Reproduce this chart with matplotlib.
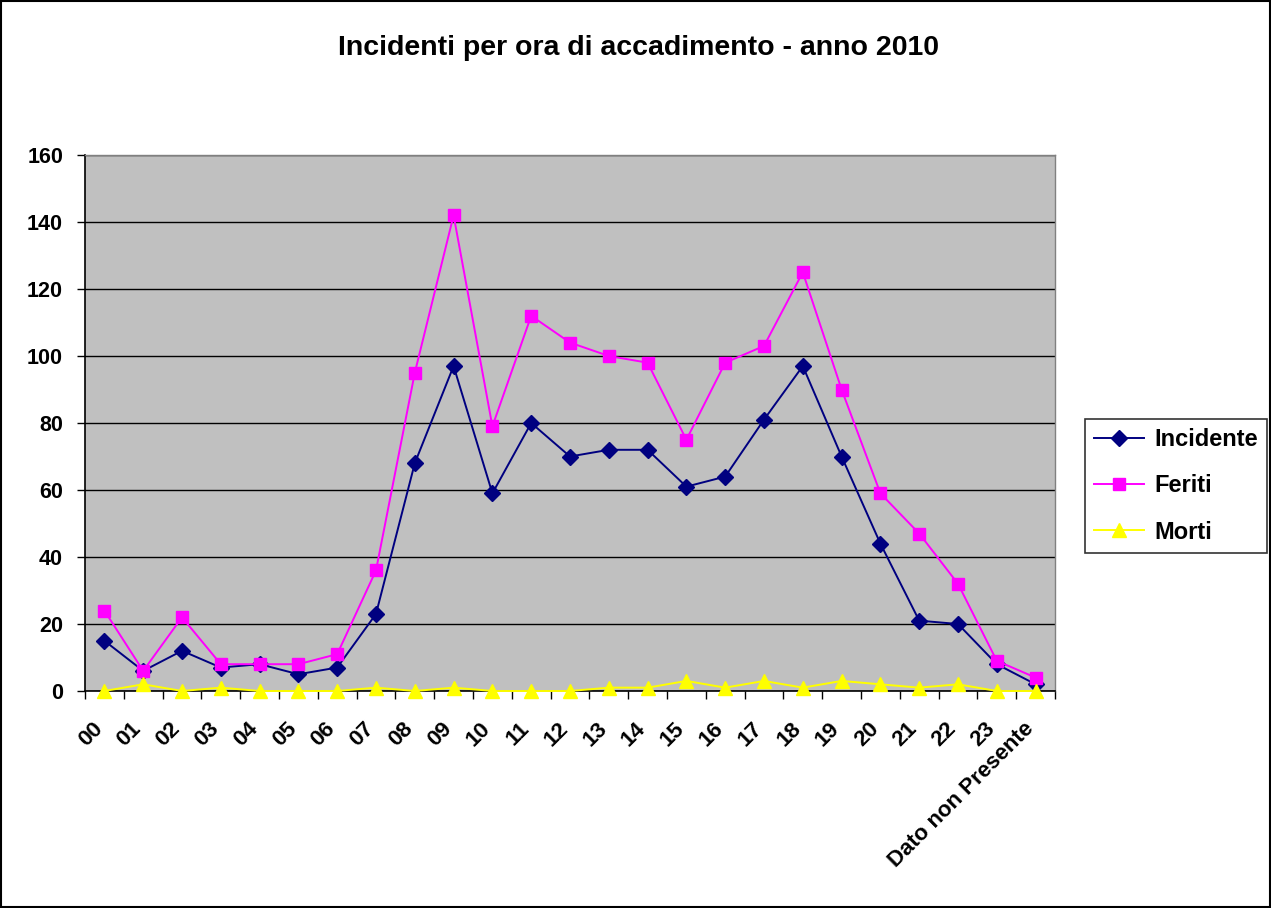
import matplotlib
matplotlib.use("Agg")
import matplotlib.pyplot as plt
import matplotlib.transforms as mtransforms
import numpy as np
from matplotlib.patches import Rectangle
from matplotlib.ticker import FixedLocator, NullFormatter

plt.rcParams['font.family'] = ['Liberation Sans', 'DejaVu Sans']
plt.rcParams['font.weight'] = 'bold'

categories = ["00", "01", "02", "03", "04", "05", "06", "07", "08", "09", "10", "11",
              "12", "13", "14", "15", "16", "17", "18", "19", "20", "21", "22", "23",
              "Dato non Presente"]
incidente = [15, 6, 12, 7, 8, 5, 7, 23, 68, 97, 59, 80, 70, 72, 72, 61, 64, 81, 97, 70, 44, 21, 20, 8, 2]
feriti = [24, 6, 22, 8, 8, 8, 11, 36, 95, 142, 79, 112, 104, 100, 98, 75, 98, 103, 125, 90, 59, 47, 32, 9, 4]
morti = [0, 2, 0, 1, 0, 0, 0, 1, 0, 1, 0, 0, 0, 1, 1, 3, 1, 3, 1, 3, 2, 1, 2, 0, 0]
y_ticks = [0, 20, 40, 60, 80, 100, 120, 140, 160]

W, H = 1271, 908
fig = plt.figure(figsize=(W / 100, H / 100), dpi=100)
fig.patch.set_facecolor('white')
fig.patches.append(Rectangle((0.0008, 0.001), 0.9984, 0.998, transform=fig.transFigure,
                             fill=False, edgecolor='black', linewidth=1.5))

left, right, top, bottom = 85, 1055, 155, 691
ax = fig.add_axes([left / W, 1 - bottom / H, (right - left) / W, (bottom - top) / H])
ax.set_facecolor('#C0C0C0')

x = np.arange(len(categories))
ax.plot(x, incidente, color='#000080', marker='D', markersize=7.8, linewidth=1.4,
        label='Incidente', zorder=3)
ax.plot(x, feriti, color='#FF00FF', marker='s', markersize=8.4, linewidth=1.4,
        label='Feriti', zorder=3)
ax.plot(x, morti, color='#FFFF00', marker='^', markersize=9.8, linewidth=1.4,
        label='Morti', zorder=3, clip_on=False)

ax.set_xlim(-0.5, len(categories) - 0.5)
ax.set_ylim(0, 160)
ax.set_yticks(y_ticks)
ax.set_yticklabels([str(v) for v in y_ticks], fontsize=15.5, fontweight='bold')
ax.yaxis.grid(True, color='black', linewidth=1.0)
ax.set_axisbelow(True)

ax.set_xticks(x)
ax.set_xticklabels(categories, rotation=45, ha='right', va='center', rotation_mode='anchor',
                   fontsize=16, fontweight='bold')
ax.tick_params(axis='x', which='major', length=0, pad=25)
shift = mtransforms.ScaledTranslation(-5 / 100, 0, fig.dpi_scale_trans)
for lbl in ax.get_xticklabels():
    lbl.set_transform(lbl.get_transform() + shift)
ax.xaxis.set_minor_locator(FixedLocator(np.arange(-0.5, len(categories), 1.0)))
ax.xaxis.set_minor_formatter(NullFormatter())
ax.tick_params(axis='x', which='minor', length=5.8, width=1, color='black', direction='out')
ax.tick_params(axis='y', length=5.8, width=1, color='black', direction='out', pad=10)

for s in ['top', 'right']:
    ax.spines[s].set_color('#808080')
    ax.spines[s].set_linewidth(1.0)
for s in ['left', 'bottom']:
    ax.spines[s].set_color('black')
    ax.spines[s].set_linewidth(1.2)

fig.text(638 / W, 1 - 48 / H, 'Incidenti per ora di accadimento - anno 2010',
         ha='center', va='center', fontsize=20.5, fontweight='bold')

leg = fig.legend(loc='center left', bbox_to_anchor=(1085 / W, 1 - 486 / H),
                 frameon=True, fancybox=False, edgecolor='black',
                 handlelength=2.1, borderpad=0.4, labelspacing=0.98, handletextpad=0.42,
                 borderaxespad=0, prop={'weight': 'bold', 'size': 17})
leg.get_frame().set_linewidth(1.2)

fig.savefig('out.png', dpi=100)
